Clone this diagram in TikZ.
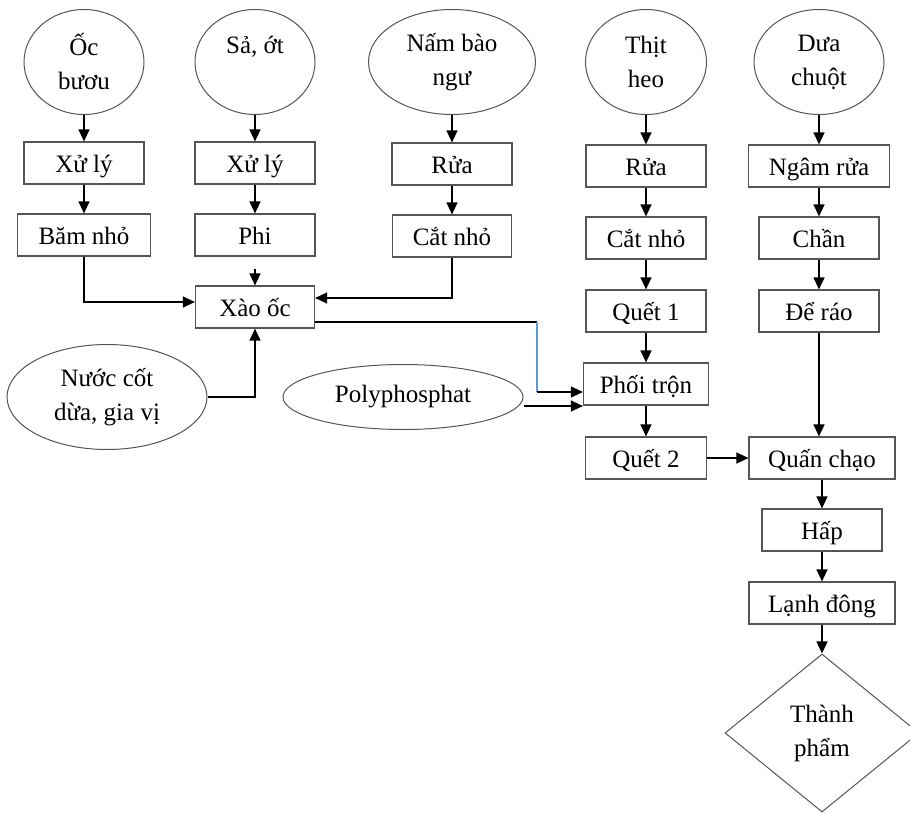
\documentclass[tikz,border=0pt]{standalone}
\usepackage{fontspec}
\setmainfont{Liberation Serif}
\usepackage{xcolor}
\usepackage{tikz}
\usetikzlibrary{shapes, arrows.meta, positioning}

\definecolor{boxline}{HTML}{555555}
\definecolor{bendblue}{HTML}{5B9BD5}

\tikzset{
    stepbox/.style={rectangle, draw=boxline, line width=1.2pt, minimum height=42pt, inner sep=0pt,
        text height=25pt, text depth=6pt, font=\fontsize{25}{34}\selectfont},
    source/.style={ellipse, draw=boxline, line width=1pt, minimum height=105pt, inner sep=0pt, align=center,
        font=\fontsize{25}{34}\selectfont},
    product/.style={diamond, draw=boxline, line width=1pt, minimum width=194pt, minimum height=158pt, inner sep=0pt,
        align=center, font=\fontsize{25}{34}\selectfont},
    arr/.style={-{Triangle[length=12pt,width=11pt]}, line width=1.3pt}
}

\begin{document}
\begin{tikzpicture}[x=1pt, y=-1pt]
        \useasboundingbox (0,0) rectangle (910,813);

        % Raw materials
        \node[source, minimum width=120pt] (oc) at (84,62) {Ốc\\bươu};
        \node[source, minimum width=120pt] (sa) at (255,62) {Sả, ớt\\\mbox{}};
        \node[source, minimum width=167pt] (nam) at (452,62) {Nấm bào\\ngư};
        \node[source, minimum width=121pt] (thit) at (646,62) {Thịt\\heo};
        \node[source, minimum width=130pt] (dua) at (819,62) {Dưa\\chuột};

        % First steps
        \node[stepbox, minimum width=120pt] (xuly1) at (84,163) {Xử lý};
        \node[stepbox, minimum width=120pt] (xuly2) at (255,163) {Xử lý};
        \node[stepbox, minimum width=120pt] (rua1) at (452,164) {Rửa};
        \node[stepbox, minimum width=120pt] (rua2) at (646,166) {Rửa};
        \node[stepbox, minimum width=141pt] (ngam) at (819,166) {Ngâm rửa};

        \node[stepbox, minimum width=133pt] (bam) at (84,235) {Băm nhỏ};
        \node[stepbox, minimum width=120pt] (phi) at (255,235) {Phi};
        \node[stepbox, minimum width=119pt] (cat1) at (452,236) {Cắt nhỏ};
        \node[stepbox, minimum width=120pt] (cat2) at (646,238) {Cắt nhỏ};
        \node[stepbox, minimum width=120pt] (chan) at (819,238) {Chần};

        \node[stepbox, minimum width=119pt] (xao) at (255,307) {Xào ốc};
        \node[stepbox, minimum width=120pt] (quet1) at (646,311) {Quết 1};
        \node[stepbox, minimum width=120pt] (dao) at (819,311) {Để ráo};

        % Mixing
        \node[source, minimum width=200pt] (nuoc) at (107,397) {Nước cốt\\dừa, gia vị};
        \node[source, minimum width=240pt, minimum height=65pt] (poly) at (403,397) {Polyphosphat};
        \node[stepbox, minimum width=125pt] (phoi) at (646,384) {Phối trộn};
        \node[stepbox, minimum width=121pt] (quet2) at (646,458) {Quết 2};

        % Rolling and finishing
        \node[stepbox, minimum width=146pt] (quan) at (822,458) {Quấn chạo};
        \node[stepbox, minimum width=120pt] (hap) at (822,530) {Hấp};
        \node[stepbox, minimum width=146pt] (lanh) at (822,603) {Lạnh đông};
        \node[product] (tp) at (822,733) {Thành\\phẩm};

        % Straight chains
        \foreach \a/\b in {oc/xuly1, xuly1/bam, sa/xuly2, xuly2/phi, nam/rua1, rua1/cat1,
                thit/rua2, rua2/cat2, cat2/quet1, quet1/phoi, phoi/quet2,
                dua/ngam, ngam/chan, chan/dao, quet2/quan, quan/hap, hap/lanh, lanh/tp} {
                \draw[arr] (\a) -- (\b);
            }

        % Into the frying step
        \draw[arr] (bam.south) |- ([yshift=5pt]xao.west);
        \draw[arr, shorten <=12pt] (phi) -- (xao);
        \draw[arr] (cat1.south) |- ([yshift=9pt]xao.east);
        \draw[arr] (nuoc.east) -| (xao.south);

        % Into the mixing step
        \coordinate (k1) at (537,322);
        \coordinate (k2) at (537,392);
        \draw[line width=1.3pt] ([yshift=-15pt]xao.east) -- (k1);
        \draw[bendblue, line width=1.3pt] (k1) -- (k2);
        \draw[arr] (k2) -- (k2 -| phoi.west);
        \draw[arr] ([yshift=-9pt]poly.east) -- ([yshift=-9pt]poly.east -| phoi.west);
        \draw[arr] (dao.south) -- (dao.south |- quan.north);
    \end{tikzpicture}
\end{document}
